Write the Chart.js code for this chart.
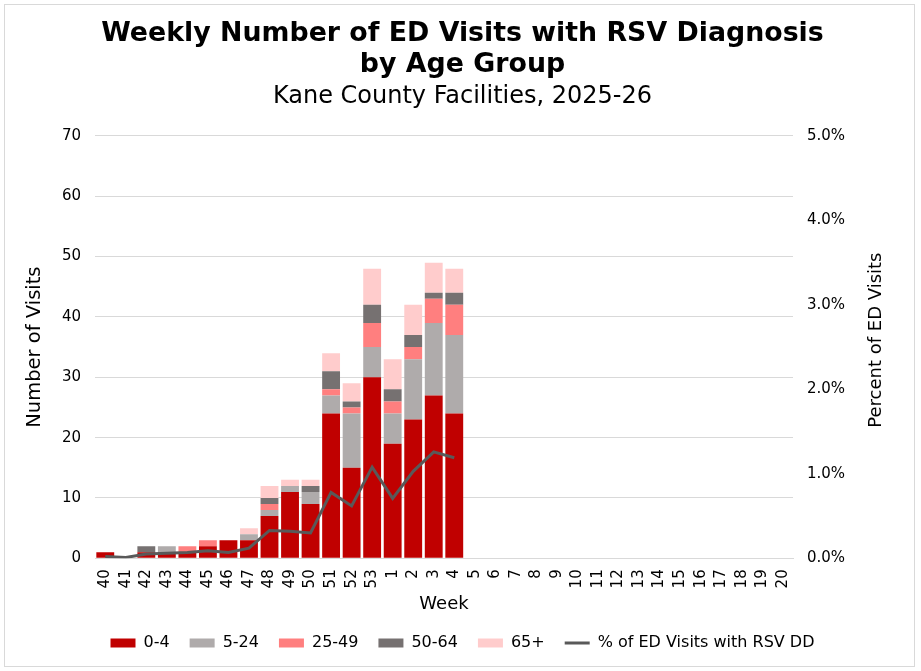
<!DOCTYPE html>
<html>
<head>
<meta charset="utf-8">
<script src="https://cdn.jsdelivr.net/npm/chart.js@4/dist/chart.umd.min.js"></script>
<style>
  html, body { margin: 0; padding: 0; background: #fff; }
  #wrap { position: absolute; left: 4px; top: 4px; width: 909px; height: 661px; border: 1px solid #d9d9d9; }
  #box { position: absolute; left: 0; top: 0; width: 921px; height: 671px; }
</style>
</head>
<body>
<div id="wrap"></div>
<div id="box"><canvas id="myChart"></canvas></div>
<script>
const weeks = ['40','41','42','43','44','45','46','47','48','49','50','51','52','53',
  '1','2','3','4','5','6','7','8','9','10','11','12','13','14','15','16','17','18','19','20'];

// visits by age group, weeks 40..4 (later weeks not reported yet)
const age0to4   = [1, 0, 1, 1, 1, 2, 3, 3, 7, 11, 9, 24, 15, 30, 19, 23, 27, 24];
const age5to24  = [0, 0, 0, 1, 0, 0, 0, 1, 1, 1, 2, 3, 9, 5, 5, 10, 12, 13];
const age25to49 = [0, 0, 0, 0, 1, 1, 0, 0, 1, 0, 0, 1, 1, 4, 2, 2, 4, 5];
const age50to64 = [0, 0, 1, 0, 0, 0, 0, 0, 1, 0, 1, 3, 1, 3, 2, 2, 1, 2];
const age65plus = [0, 0, 0, 0, 0, 0, 0, 1, 2, 1, 1, 3, 3, 6, 5, 5, 5, 4];
// % of ED visits with RSV diagnosis
const pctRsv = [0.02, 0.01, 0.05, 0.06, 0.07, 0.09, 0.07, 0.12, 0.33, 0.32, 0.30,
  0.78, 0.62, 1.08, 0.71, 1.03, 1.26, 1.19];

const leftTicks = [0, 10, 20, 30, 40, 50, 60, 70];
const rightTicks = [0, 1, 2, 3, 4, 5];

const font = "'DejaVu Sans', sans-serif";
const ctx = document.getElementById('myChart').getContext('2d');

function bar(label, data, color) {
  return { type: 'bar', label: label, data: data, backgroundColor: color,
    barPercentage: 0.87, categoryPercentage: 1, order: 2, yAxisID: 'y' };
}

// right axis title reads bottom to top, same as the left one
const rightTitle = {
  id: 'rightTitle',
  afterDraw(chart) {
    const s = chart.scales.y1;
    const c = chart.ctx;
    c.save();
    c.translate(876, (s.top + s.bottom) / 2 - 7);
    c.rotate(-Math.PI / 2);
    c.font = '18px ' + font;
    c.fillStyle = '#000';
    c.textAlign = 'center';
    c.textBaseline = 'middle';
    c.fillText('Percent of ED Visits', 0, 0);
    c.restore();
  }
};

const myChart = new Chart(ctx, {
  data: {
    labels: weeks,
    datasets: [
      bar('0-4', age0to4, '#C00000'),
      bar('5-24', age5to24, '#AFABAB'),
      bar('25-49', age25to49, '#FF7F7F'),
      bar('50-64', age50to64, '#767171'),
      bar('65+', age65plus, '#FFCCCC'),
      {
        type: 'line',
        label: '% of ED Visits with RSV DD',
        data: pctRsv,
        borderColor: '#595959',
        backgroundColor: '#595959',
        borderWidth: 3,
        pointRadius: 0,
        tension: 0,
        order: 1,
        yAxisID: 'y1'
      }
    ]
  },
  plugins: [rightTitle],
  options: {
    responsive: true,
    maintainAspectRatio: false,
    animation: false,
    layout: { padding: { left: 20, right: 16, top: 19, bottom: 10 } },
    plugins: {
      title: {
        display: true,
        text: ['Weekly Number of ED Visits with RSV Diagnosis', 'by Age Group'],
        color: '#000',
        font: { family: font, size: 26.8, weight: 'bold', lineHeight: 1.14 },
        padding: { top: 0, bottom: 2 }
      },
      subtitle: {
        display: true,
        text: 'Kane County Facilities, 2025-26',
        color: '#000',
        font: { family: font, size: 24 },
        padding: { top: 0, bottom: 25 }
      },
      legend: {
        position: 'bottom',
        labels: {
          color: '#000',
          font: { family: font, size: 16 },
          usePointStyle: true,
          pointStyleWidth: 25,
          boxHeight: 9,
          padding: 20,
          sort: (a, b) => a.datasetIndex - b.datasetIndex,
          generateLabels: (chart) => Chart.defaults.plugins.legend.labels.generateLabels(chart)
            .map(l => Object.assign(l, { pointStyle: l.datasetIndex === 5 ? 'line' : 'rect' }))
        }
      },
      tooltip: { enabled: false }
    },
    scales: {
      x: {
        stacked: true,
        grid: { display: false },
        border: { color: '#d9d9d9' },
        ticks: { color: '#000', font: { family: font, size: 15 }, minRotation: 90, maxRotation: 90, autoSkip: false, padding: 3 },
        title: { display: true, text: 'Week', color: '#000', font: { family: font, size: 18 }, padding: { top: 2, bottom: 0 } }
      },
      y: {
        stacked: true,
        position: 'left',
        min: leftTicks[0],
        max: leftTicks[leftTicks.length - 1],
        afterBuildTicks: (s) => { s.ticks = leftTicks.map(v => ({ value: v })); },
        afterFit: (s) => { s.width = 75; },
        grid: { color: '#d9d9d9', drawTicks: false },
        border: { display: false },
        ticks: { color: '#000', font: { family: font, size: 15 }, padding: 14 },
        title: { display: true, text: 'Number of Visits', color: '#000', font: { family: font, size: 19.5 }, padding: { top: 3, bottom: 0 } }
      },
      y1: {
        stacked: false,
        position: 'right',
        min: rightTicks[0],
        max: rightTicks[rightTicks.length - 1],
        afterBuildTicks: (s) => { s.ticks = rightTicks.map(v => ({ value: v })); },
        afterFit: (s) => { s.width = 112; },
        grid: { display: false, drawTicks: false },
        border: { display: false },
        ticks: { color: '#000', font: { family: font, size: 15 }, padding: 14,
          callback: (v) => v.toFixed(1) + '%' },
        title: { display: false }
      }
    }
  }
});
</script>
</body>
</html>
